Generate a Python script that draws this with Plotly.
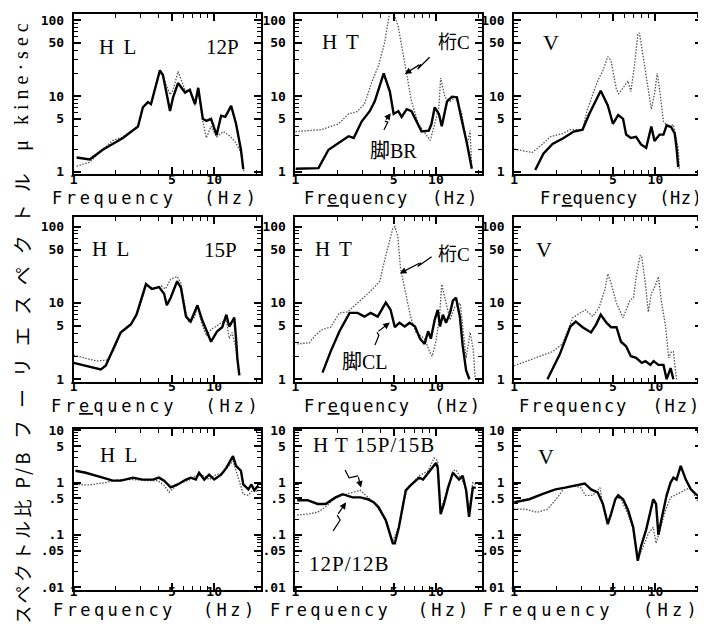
import math
import plotly.graph_objects as go

W, H = 706, 633
OFF = 8  # page body margin offset of the plot div in the browser

# ---------------- data (frequency Hz, amplitude) ----------------
# Row 1 : Fourier spectra, 12P
hl12_f_solid = [1.05,1.30,1.61,2.24,2.87,3.11,3.38,3.55,4.11,4.32,4.85,5.1,5.53,6.2,6.7,7.3,7.7,8.3,8.8,9.5,10.4,11.2,12.0,13.2,14.3,15.5,16.1]
hl12_v_solid = [1.55,1.46,1.96,2.79,3.97,7.1,8.3,7.8,21.8,18.8,6.35,9.6,14.8,11.1,12.1,7.8,12.8,5.0,4.7,5.0,3.05,5.5,5.3,7.4,4.3,1.96,1.09]
hl12_f_dot = [1.05,1.30,1.61,1.9,2.24,2.87,3.11,3.38,3.55,4.11,4.32,4.85,5.1,5.53,6.2,6.7,7.3,7.7,8.3,8.8,9.5,10.4,11.6,13.0,14.3,15.5,16.3]
hl12_v_dot = [1.19,1.34,1.96,2.6,2.9,3.97,7.1,8.3,7.8,21.0,18.0,10.4,12.0,21.0,12.0,11.5,7.5,11.5,4.6,2.8,4.0,2.9,3.4,2.95,2.4,1.8,1.0]

ht12_f_solid = [1.0,1.46,1.72,2.03,2.39,2.6,2.96,3.38,3.67,4.25,4.7,5.0,5.4,5.7,6.2,6.7,7.9,8.9,9.3,9.8,10.5,11.0,12.0,13.0,14.1,15.3,16.6,18.0]
ht12_v_solid = [1.1,1.12,1.96,2.4,2.95,2.8,4.6,6.3,8.5,19.9,11.4,5.8,6.3,5.3,6.7,6.3,3.4,3.5,4.3,7.1,5.8,4.0,8.5,9.8,9.6,4.7,2.4,1.1]
ht12_f_dot = [1.0,1.53,2.03,2.39,2.73,3.1,3.5,3.9,4.3,4.7,5.0,5.4,6.0,6.7,7.5,8.4,9.1,9.8,10.5,10.8,11.6,12.6,13.7,15.3,16.6,17.5,18.0]
ht12_v_dot = [3.4,3.6,4.3,5.8,6.2,7.8,15.3,25,49,130,126,81,27,8.5,4.3,3.2,2.6,4.3,7.1,17.2,9.6,8.5,9.6,5.8,2.2,3.5,1.1]

v12_f_solid = [1.41,1.61,1.87,2.24,2.64,3.05,3.4,3.8,4.1,4.6,5.0,5.45,5.9,6.2,6.7,7.3,7.9,8.6,9.35,9.85,10.7,11.4,12.0,12.9,13.7,14.1,14.5]
v12_v_solid = [1.06,1.74,2.34,2.8,3.4,3.6,5.8,9.0,11.7,7.5,4.3,5.6,5.0,3.1,2.8,2.9,2.3,2.08,3.96,2.55,3.1,3.1,4.1,3.9,3.2,2.08,1.16]
v12_f_dot = [1.0,1.34,1.58,1.8,2.2,2.5,3.05,3.3,3.9,4.25,4.6,4.85,5.3,5.5,5.9,6.4,6.7,7.1,7.5,7.7,8.2,8.9,9.35,9.85,10.3,10.7,11.4,12.4,13.4,14.1,14.5,14.8]
v12_v_dot = [2.0,1.8,2.3,2.9,3.2,3.6,3.6,6.7,15.8,21.7,33,29,12.1,10.7,12.8,15.8,11.4,25,64,68,32.6,12.1,6.7,10.7,19.9,12.1,4.6,3.9,4.2,2.6,2.08,1.06]

# Row 2 : Fourier spectra, 15P
hl15_f_solid = [1.0,1.24,1.56,1.69,1.87,2.16,2.55,2.8,3.27,3.6,4.05,4.4,4.6,4.9,5.45,5.8,6.3,6.8,7.6,8.2,9.5,10.5,11.4,12.2,12.8,13.9,14.3,14.6,15.1]
hl15_v_solid = [1.64,1.5,1.34,1.5,2.3,4.1,5.2,7.0,17.6,15.2,16.1,13.2,9.3,11.7,19.2,15.7,6.6,5.7,9.3,6.0,3.1,4.25,4.8,7.0,4.9,6.4,3.4,1.9,1.12]
hl15_f_dot = [1.0,1.18,1.46,1.72,1.93,2.2,2.6,2.9,3.3,3.7,4.2,4.5,4.9,5.45,5.8,6.3,6.6,7.2,7.6,8.2,8.8,9.5,10.3,11.2,12.2,12.8,13.4,14.3,15.1]
hl15_v_dot = [2.06,1.9,1.73,1.78,2.4,4.25,5.5,8.0,17.6,15.2,16.6,15.2,20.4,22.2,18.1,7.4,5.5,6.4,8.8,5.2,3.7,4.5,4.9,5.5,6.0,3.4,4.1,2.5,1.12]

ht15_f_solid = [1.56,1.78,2.06,2.43,2.77,3.1,3.43,3.85,4.4,4.76,5.1,5.5,6.0,6.5,7.1,7.7,8.3,8.8,9.2,9.8,10.3,10.7,11.2,11.8,12.6,13.2,13.9,14.8,15.5,16.4,17.3]
ht15_v_solid = [1.22,2.3,4.25,7.4,7.4,6.6,7.4,6.6,10.1,8.1,4.8,5.5,4.9,5.5,4.9,3.4,2.9,4.25,3.4,6.0,8.1,4.9,7.0,5.5,7.4,10.7,11.7,6.6,2.75,1.3,1.0]
ht15_f_dot = [1.03,1.26,1.37,1.56,1.78,2.06,2.35,2.77,3.27,3.55,3.98,4.4,4.93,5.1,5.35,5.6,6.1,6.6,7.2,8.3,9.0,9.4,10.0,10.6,11.0,11.8,12.6,13.6,14.9,15.5,16.4,17.5,18.4,19.0]
ht15_v_dot = [2.9,3.0,3.7,4.5,4.8,7.4,7.6,9.9,13.2,15.2,19.2,42,94,100,75,28,13.2,6.6,4.1,3.4,2.3,2.0,3.1,6.6,17.5,9.9,6.0,8.8,9.9,4.9,1.9,4.1,2.5,1.06]

v15_f_solid = [1.72,2.1,2.5,2.73,3.05,3.5,3.8,4.1,4.5,4.85,5.3,5.7,6.2,6.7,7.3,8.0,8.5,9.2,9.7,10.5,11.4,12.0,12.8,13.4]
v15_v_solid = [1.0,2.1,4.9,5.7,4.8,4.1,5.2,7.0,5.5,4.8,4.8,3.1,2.7,2.0,1.9,1.64,1.73,1.54,1.73,1.54,1.54,1.0,1.4,1.0]
v15_f_dot = [1.0,1.41,1.87,2.2,2.6,2.8,3.2,3.6,4.0,4.4,4.6,4.85,5.3,5.9,6.6,7.0,7.3,7.8,8.0,8.5,8.9,9.35,9.95,10.5,11.0,11.8,12.4,13.0,13.4,14.1]
v15_v_dot = [1.5,1.9,2.3,2.9,6.4,7.0,8.1,6.6,8.8,15.2,24,18.1,9.9,6.4,10.8,11.7,22,42,40,17.6,7.6,13.2,16.6,22,10.8,4.9,1.9,2.3,2.3,1.0]

# Row 3 : spectral ratio P/B
hlr_f_solid = [1.03,1.22,1.61,1.9,2.17,2.64,3.1,3.66,4.05,4.4,4.9,5.5,6.3,6.8,7.4,7.8,8.5,9.2,10.0,11.2,12.2,12.8,13.6,14.3,15.5,16.1,17.5,18.4,19.3,20.6]
hlr_v_solid = [1.68,1.54,1.24,1.09,1.09,1.24,1.14,1.14,1.24,1.09,0.81,0.92,1.14,1.24,1.14,1.54,1.14,1.41,1.14,1.41,1.91,2.37,3.2,2.08,1.68,0.92,0.74,0.92,0.71,0.88]
hlr_f_dot = [1.03,1.28,1.69,2.1,2.64,3.27,3.97,4.4,4.77,5.2,5.8,6.5,7.7,8.5,9.2,10.3,11.6,12.6,13.6,14.3,15.1,16.1,17.5,19.0,20.6]
hlr_v_dot = [0.92,0.9,1.0,1.14,1.14,1.09,1.09,0.88,0.65,0.81,1.0,1.09,1.41,1.35,1.14,1.41,1.54,2.08,2.6,1.68,1.0,0.6,0.57,0.74,0.65]

htr_f_solid = [1.03,1.22,1.44,1.64,1.93,2.17,2.55,2.9,3.27,3.6,3.9,4.4,4.77,4.93,5.1,5.45,5.8,6.1,6.6,7.0,7.6,8.1,8.8,9.2,10.0,10.3,10.8,11.4,12.2,13.2,13.9,14.6,15.5,16.4,17.2,18.3,19.2]
htr_v_solid = [0.46,0.46,0.39,0.39,0.52,0.6,0.52,0.52,0.48,0.42,0.34,0.19,0.093,0.069,0.069,0.14,0.34,0.71,0.88,1.0,1.24,1.14,1.54,1.75,2.37,1.91,0.25,0.39,0.8,1.54,1.35,1.14,1.35,0.71,0.22,0.8,0.8]
htr_f_dot = [1.03,1.22,1.44,1.64,1.87,2.17,2.55,2.9,3.3,3.7,4.4,4.93,5.45,5.8,6.3,7.6,8.8,9.7,10.3,10.8,11.8,13.2,13.9,15.0,16.4,17.2,18.3,19.2]
htr_v_dot = [0.24,0.25,0.27,0.34,0.48,0.57,0.65,0.71,0.52,0.39,0.19,0.075,0.15,0.39,0.8,1.35,1.68,2.95,2.6,0.3,0.6,1.68,1.75,1.24,0.8,0.3,1.0,0.92]

vr_f_solid = [1.0,1.28,1.58,1.96,2.3,2.73,3.16,3.5,3.9,4.25,4.6,4.85,5.2,5.45,5.9,6.4,6.96,7.5,7.9,8.6,9.65,10.1,10.5,11.0,12.0,12.8,13.4,14.1,15.1,16.4,17.8,19.3,20.9]
vr_v_solid = [0.42,0.48,0.6,0.74,0.8,0.88,0.96,0.74,0.65,0.39,0.16,0.25,0.48,0.57,0.48,0.3,0.14,0.032,0.06,0.126,0.48,0.39,0.1,0.19,0.57,1.0,1.24,1.14,2.08,1.14,0.74,0.6,0.52]
vr_f_dot = [1.0,1.2,1.46,1.72,2.03,2.27,2.6,2.96,3.2,3.6,4.05,4.25,4.6,5.0,5.3,5.7,6.4,6.96,7.5,8.2,8.9,9.65,10.1,10.8,11.8,12.8,13.8,15.1,16.4,17.8,19.3,20.9]
vr_v_dot = [0.31,0.31,0.27,0.31,0.52,0.8,0.88,0.8,0.57,0.57,0.8,0.34,0.18,0.34,0.52,0.48,0.25,0.126,0.035,0.06,0.106,0.14,0.069,0.126,0.3,0.52,0.57,0.65,0.74,0.8,0.52,0.34]

# tick labels
x_tickvals = [1, 5, 10]
x_ticktext = ["1", "5", "10"]
x_minor = [2, 3, 4, 6, 7, 8, 9, 20]
y_spec_tickvals = [1, 5, 10, 50, 100]
y_spec_ticktext = ["1", "5", "10", "50", "100"]
y_spec_minor = [2, 3, 4, 6, 7, 8, 9, 20, 30, 40, 60, 70, 80, 90]
y_ratio_tickvals = [0.01, 0.05, 0.1, 0.5, 1, 5, 10]
y_ratio_ticktext = [".01", ".05", ".1", ".5", "1", "5", "10"]
y_ratio_minor = [0.02, 0.03, 0.04, 0.06, 0.07, 0.08, 0.09, 0.2, 0.3, 0.4, 0.6, 0.7, 0.8, 0.9, 2, 3, 4, 6, 7, 8, 9]

panels = [
    (hl12_f_solid, hl12_v_solid, hl12_f_dot, hl12_v_dot),
    (ht12_f_solid, ht12_v_solid, ht12_f_dot, ht12_v_dot),
    (v12_f_solid, v12_v_solid, v12_f_dot, v12_v_dot),
    (hl15_f_solid, hl15_v_solid, hl15_f_dot, hl15_v_dot),
    (ht15_f_solid, ht15_v_solid, ht15_f_dot, ht15_v_dot),
    (v15_f_solid, v15_v_solid, v15_f_dot, v15_v_dot),
    (hlr_f_solid, hlr_v_solid, hlr_f_dot, hlr_v_dot),
    (htr_f_solid, htr_v_solid, htr_f_dot, htr_v_dot),
    (vr_f_solid, vr_v_solid, vr_f_dot, vr_v_dot),
]

# ---------------- layout geometry (screen pixels) ----------------
COLS = [(70, 258), (293, 481), (513, 702)]
ROWS = [(8, 171), (215, 382), (430, 594)]
YRANGES = [[-0.03, 2.08], [-0.03, 2.12], [-2.05, 1.03]]
XRANGE = [0, 1.33]
XLABEL_STANDOFF = [-8, -8, -11]

TICKFONT = dict(family="DejaVu Sans Mono", size=13, color="black", weight="bold")


def fx(px):
    return (px - OFF) / W


def fy(py):
    return 1 - (py - OFF) / H


fig = go.Figure()
for i, (fs, vs, fd, vd) in enumerate(panels):
    r, c = divmod(i, 3)
    sfx = "" if i == 0 else str(i + 1)
    fig.add_trace(go.Scatter(x=fd, y=vd, mode="lines",
                             line=dict(color="#555555", width=1.3, dash="1.5px,1.5px"),
                             xaxis="x" + sfx, yaxis="y" + sfx, hoverinfo="skip"))
    fig.add_trace(go.Scatter(x=fs, y=vs, mode="lines",
                             line=dict(color="black", width=2.4),
                             xaxis="x" + sfx, yaxis="y" + sfx, hoverinfo="skip"))
    x0, x1 = COLS[c]
    y0, y1 = ROWS[r]
    if r < 2:
        ytv, ytt, ymn = y_spec_tickvals, y_spec_ticktext, y_spec_minor
    else:
        ytv, ytt, ymn = y_ratio_tickvals, y_ratio_ticktext, y_ratio_minor
    fig.layout["xaxis" + sfx] = dict(
        type="log", range=XRANGE, domain=[fx(x0), fx(x1)], anchor="y" + sfx,
        showline=True, linecolor="black", linewidth=1.8, mirror="allticks",
        ticks="inside", ticklen=7, tickwidth=1.5, tickcolor="black",
        tickmode="array", tickvals=x_tickvals, ticktext=x_ticktext,
        minor=dict(tickmode="array", tickvals=x_minor, ticks="inside", ticklen=4,
                   tickwidth=1.3, tickcolor="black", showgrid=False),
        showgrid=False, zeroline=False, tickfont=TICKFONT,
        ticklabelstandoff=XLABEL_STANDOFF[r], fixedrange=True,
    )
    fig.layout["yaxis" + sfx] = dict(
        type="log", range=YRANGES[r], domain=[max(0.0, fy(y1)), min(1.0, fy(y0))],
        anchor="x" + sfx,
        showline=True, linecolor="black", linewidth=1.8, mirror="allticks",
        ticks="inside", ticklen=7, tickwidth=1.5, tickcolor="black",
        tickmode="array", tickvals=ytv, ticktext=ytt,
        minor=dict(tickmode="array", tickvals=ymn, ticks="inside", ticklen=4,
                   tickwidth=1.3, tickcolor="black", showgrid=False),
        showgrid=False, zeroline=False, tickfont=TICKFONT, ticklabelstandoff=5,
        fixedrange=True,
    )

annotations = []
shapes = []


def label(text, px, py, size=21, family="Liberation Serif, Noto Sans CJK JP", **kw):
    d = dict(text=text, x=fx(px), y=fy(py), xref="paper", yref="paper", showarrow=False,
             xanchor="center", yanchor="middle",
             font=dict(family=family, size=size, color="black"))
    d.update(kw)
    annotations.append(d)


def arrow(points):
    # zig-zag tail drawn as a path, final segment as an arrow
    path = "M " + " L ".join(f"{fx(px):.5f},{fy(py):.5f}" for px, py in points[:-1])
    shapes.append(dict(type="path", path=path, xref="paper", yref="paper",
                       line=dict(color="black", width=1.2)))
    (sx, sy), (ex, ey) = points[-2], points[-1]
    annotations.append(dict(text="", x=fx(ex), y=fy(ey), xref="paper", yref="paper",
                            showarrow=True, ax=sx - ex, ay=sy - ey, axref="pixel", ayref="pixel",
                            arrowhead=2, arrowsize=1.1, arrowwidth=1.2, arrowcolor="black"))


def sp(text, ls):
    return f'<span style="letter-spacing:{ls}px">{text}</span>'


# panel labels
label(sp("H L", 2), 115, 42)
label("12P", 220, 42)
label(sp("H T", 2), 339, 37)
label("桁C", 453, 37, size=19)
label("脚BR", 392, 147, size=20)
label("V", 550, 37, size=22)
label(sp("H L", 2), 108, 247)
label("15P", 218, 248)
label(sp("H T", 2), 332, 247)
label("桁C", 453, 253, size=19)
label("脚CL", 363, 362, size=20)
label("V", 543, 248, size=22)
label(sp("H L", 2), 116, 457)
label(sp("H T 15P/15B", 1), 372, 447)
label(sp("12P/12B", 1), 347, 568)
label("V", 545, 458, size=22)

# arrows
arrow([(428, 52), (416, 64), (419, 59), (403, 69)])
arrow([(382, 126), (386, 118), (383, 117), (389, 109)])
arrow([(430, 255), (416, 265), (419, 261), (398, 272)])
arrow([(373, 345), (377, 335), (375, 332), (388, 322)])
arrow([(343, 472), (347, 480), (356, 478), (359, 490)])
arrow([(331, 534), (338, 523), (335, 518), (344, 505)])

# x-axis titles (per panel; letter spacing matches the scanned figure)
XT = [
    (153, 195, 3.6, False), (390, 195, 1.4, True), (621, 195, 0.6, True),
    (153, 407, 3.8, True), (391, 407, 1.6, True), (609, 407, 1.9, False),
    (152, 615, 3.4, False), (369, 615, 3.2, False), (591, 615, 4.3, False),
]
for px, py, ls, ul in XT:
    e = '<span style="text-decoration:underline">e</span>' if ul else "e"
    label(sp(f"Fr{e}quency  (Hz)", ls), px, py, size=17, family="DejaVu Sans Mono")

# y-axis titles (rotated)
label(sp("μ kine·sec", 5), 18, 80, size=20, textangle=-90)
label(sp("フーリエスペクトル", 12), 18, 299, size=19, family="Noto Sans CJK JP", textangle=-90)
label(sp("スペクトル比 P/B", 3.5), 18, 539, size=18,
      family="Noto Sans CJK JP, Liberation Serif", textangle=-90)

fig.update_layout(
    width=W, height=H, margin=dict(l=0, r=0, t=0, b=0),
    paper_bgcolor="white", plot_bgcolor="white", showlegend=False,
    annotations=annotations, shapes=shapes,
)

fig.write_html("out.html")
